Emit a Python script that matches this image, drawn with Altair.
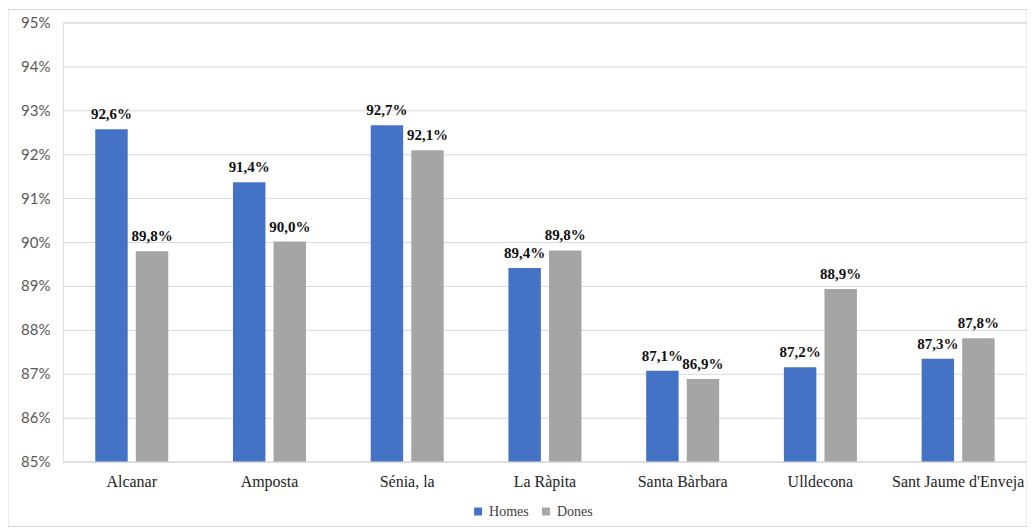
import altair as alt
import pandas as pd

municipis = ["Alcanar", "Amposta", "Sénia, la", "La Ràpita", "Santa Bàrbara", "Ulldecona", "Sant Jaume d'Enveja"]
homes = [92.57, 91.36, 92.66, 89.41, 87.07, 87.15, 87.34]
dones = [89.79, 90.01, 92.09, 89.81, 86.88, 88.93, 87.81]
series = ["Homes", "Dones"]
colors = ["#4472C4", "#A5A5A5"]

rows = []
for i, m in enumerate(municipis):
    rows.append({"municipi": m, "sexe": "Homes", "valor": homes[i]})
    rows.append({"municipi": m, "sexe": "Dones", "valor": dones[i]})
df = pd.DataFrame(rows)

W, H = 966, 440

x = alt.X("municipi:N", sort=municipis, title=None,
          scale=alt.Scale(paddingInner=0.47, paddingOuter=0.235),
          axis=alt.Axis(labelAngle=0, labelFont="Liberation Serif", labelFontSize=16,
                        labelColor="#262626", labelPadding=12, ticks=False,
                        domain=True, domainColor="#D9D9D9", domainWidth=1, grid=False))
xo = alt.XOffset("sexe:N", sort=series, scale=alt.Scale(paddingInner=0.2, paddingOuter=0))
y = alt.Y("valor:Q", title=None,
          scale=alt.Scale(domain=[85, 95], zero=False, nice=False),
          axis=alt.Axis(values=list(range(85, 96)), labelExpr="datum.value + '%'",
                        labelFont="Lato", labelFontSize=15, labelColor="#595959",
                        labelPadding=13, ticks=False, domain=False,
                        grid=True, gridColor="#D9D9D9", gridWidth=1))
color = alt.Color("sexe:N", sort=series, title=None,
                  scale=alt.Scale(domain=series, range=colors),
                  legend=alt.Legend(orient="none", legendX=409, legendY=H + 43, direction="horizontal",
                                    symbolType="square", symbolSize=64, symbolStrokeWidth=0,
                                    labelFont="Liberation Serif", labelFontSize=14,
                                    labelColor="#404040", columnPadding=10, padding=0,
                                    labelOffset=4))

base = alt.Chart(df)
bars = base.mark_bar(clip=True).encode(x=x, xOffset=xo, y=y, color=color)
labels = base.transform_calculate(
    lab="replace(format(datum.valor, '.1f'), '.', ',') + '%'"
).mark_text(baseline="bottom", dy=-7, font="Liberation Serif", fontSize=15,
            fontWeight="bold", color="#111111").encode(
    x=alt.X("municipi:N", sort=municipis), xOffset=xo, y="valor:Q", text="lab:N")

border = alt.Chart(pd.DataFrame({"a": [0]})).mark_rect(
    fill=None, stroke="#D9D9D9", strokeWidth=1, clip=False
).encode(x=alt.value(-55), x2=alt.value(W + 0), y=alt.value(-13), y2=alt.value(H + 65))

chart = alt.layer(border, bars, labels).properties(
    width=W, height=H,
    padding={"left": 55, "top": 14, "right": 0, "bottom": 66},
    autosize=alt.AutoSizeParams(type="none"),
).configure_view(stroke=None).configure(background="white")

chart.save("out.html", embed_options={"renderer": "svg", "actions": False})
